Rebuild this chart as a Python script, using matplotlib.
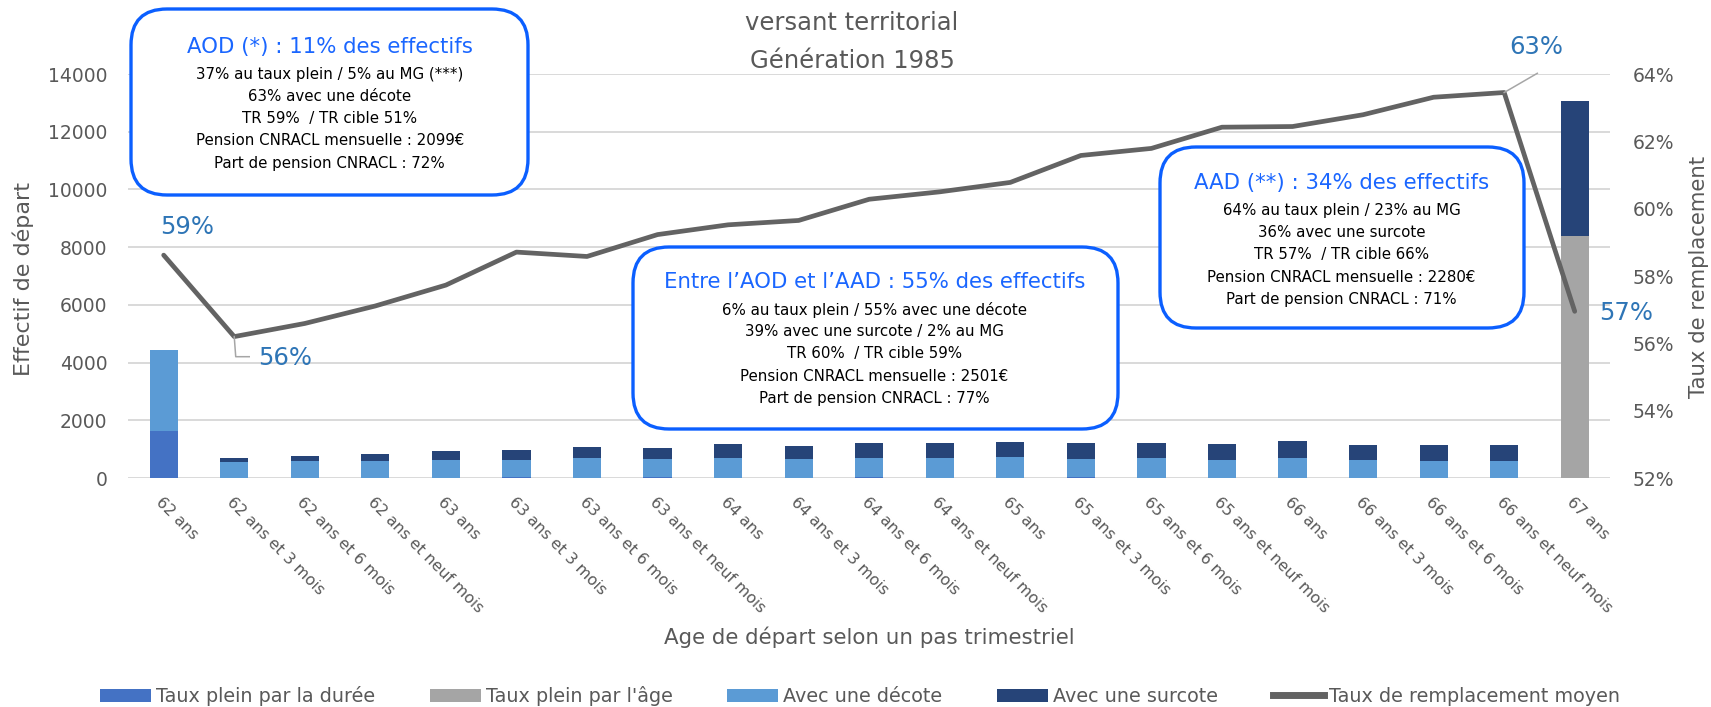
import matplotlib
matplotlib.use("Agg")
import matplotlib.pyplot as plt
import numpy as np
from matplotlib.patches import FancyBboxPatch, Patch
from matplotlib.lines import Line2D
from matplotlib.transforms import IdentityTransform

plt.rcParams['font.family'] = ['DejaVu Sans']

# ---------------- data ----------------
categories = ["62 ans", "62 ans et 3 mois", "62 ans et 6 mois", "62 ans et neuf mois",
              "63 ans", "63 ans et 3 mois", "63 ans et 6 mois", "63 ans et neuf mois",
              "64 ans", "64 ans et 3 mois", "64 ans et 6 mois", "64 ans et neuf mois",
              "65 ans", "65 ans et 3 mois", "65 ans et 6 mois", "65 ans et neuf mois",
              "66 ans", "66 ans et 3 mois", "66 ans et 6 mois", "66 ans et neuf mois",
              "67 ans"]
taux_plein_duree = [1640, 0, 0, 0, 0, 40, 0, 45, 0, 0, 40, 0, 0, 40, 0, 0, 0, 0, 0, 0, 0]
taux_plein_age = [0, 0, 0, 0, 0, 0, 0, 0, 0, 0, 0, 0, 0, 0, 0, 0, 0, 0, 0, 0, 8400]
avec_decote = [2780, 545, 575, 600, 620, 575, 680, 605, 695, 660, 650, 705, 740, 630, 705,
               635, 705, 635, 600, 590, 0]
avec_surcote = [0, 140, 200, 245, 305, 365, 380, 380, 475, 450, 515, 510, 520, 545, 520,
                545, 575, 520, 535, 555, 4670]
taux_remplacement = [0.5862, 0.5620, 0.5659, 0.5711, 0.5773, 0.5871, 0.5858, 0.5923,
                     0.5952, 0.5965, 0.6028, 0.6050, 0.6078, 0.6158, 0.6179, 0.6242,
                     0.6244, 0.6279, 0.6331, 0.6345, 0.5695]
left_ticks = [0, 2000, 4000, 6000, 8000, 10000, 12000, 14000]
right_ticks = [0.52, 0.54, 0.56, 0.58, 0.60, 0.62, 0.64]

series_names = ["Taux plein par la durée", "Taux plein par l'âge", "Avec une décote",
                "Avec une surcote"]
series_colors = ["#4472C4", "#A5A5A5", "#5B9BD5", "#264478"]
line_name = "Taux de remplacement moyen"
line_color = "#636363"

title_lines = ["versant territorial", "Génération 1985"]
box_titles = ["AOD (*) : 11% des effectifs",
              "Entre l’AOD et l’AAD : 55% des effectifs",
              "AAD (**) : 34% des effectifs"]
box_bodies = [
    ["37% au taux plein / 5% au MG (***)", "63% avec une décote", "TR 59%  / TR cible 51%",
     "Pension CNRACL mensuelle : 2099€", "Part de pension CNRACL : 72%"],
    ["6% au taux plein / 55% avec une décote", "39% avec une surcote / 2% au MG",
     "TR 60%  / TR cible 59%", "Pension CNRACL mensuelle : 2501€",
     "Part de pension CNRACL : 77%"],
    ["64% au taux plein / 23% au MG", "36% avec une surcote", "TR 57%  / TR cible 66%",
     "Pension CNRACL mensuelle : 2280€", "Part de pension CNRACL : 71%"],
]

# ---------------- figure ----------------
W, H = 1711, 707
fig = plt.figure(figsize=(W / 100, H / 100), dpi=100)
GREY = "#595959"


def fx(px):
    return px / W


def fy(py):
    return 1 - py / H


ax = fig.add_axes([fx(128.4), fy(478), (1610 - 128.4) / W, (478 - 74) / H])
x = np.arange(len(categories))
bottom = np.zeros(len(categories))
for vals, col in zip([taux_plein_duree, taux_plein_age, avec_decote, avec_surcote],
                     series_colors):
    v = np.array(vals, dtype=float)
    ax.bar(x, v, 0.4, bottom=bottom, color=col, zorder=2)
    bottom += v

ax.set_xlim(-0.5, len(categories) - 0.5)
ax.set_ylim(0, 14000)
ax.set_yticks(left_ticks)
ax.set_yticklabels([str(v) for v in left_ticks])
ax.grid(axis='y', color='#D9D9D9', lw=1.4)
ax.set_axisbelow(True)
for s in ax.spines.values():
    s.set_visible(False)
ax.tick_params(axis='y', length=0, pad=15, labelsize=13.5, labelcolor=GREY)
ax.set_xticks(x)
ax.set_xticklabels(categories, rotation=-45, ha='left', va='top',
                   rotation_mode='anchor', fontsize=11.3, color=GREY)
ax.tick_params(axis='x', length=0, pad=12)

ax2 = ax.twinx()
ax2.set_ylim(0.52, 0.64)
ax2.plot(x, taux_remplacement, color=line_color, lw=3.4, solid_joinstyle='round',
         solid_capstyle='round', zorder=3)
ax2.set_yticks(right_ticks)
ax2.set_yticklabels([f"{round(v * 100)}%" for v in right_ticks])
ax2.tick_params(axis='y', length=0, pad=16.5, labelsize=13.5, labelcolor=GREY)
for s in ax2.spines.values():
    s.set_visible(False)

# axis titles
fig.text(fx(23), fy(279), "Effectif de départ", rotation=90, ha='center', va='center',
         fontsize=16, color=GREY)
fig.text(fx(1699), fy(276.5), "Taux de remplacement", rotation=90, ha='center',
         va='center', fontsize=15.3, color=GREY)
fig.text(fx(869), fy(637), "Age de départ selon un pas trimestriel", ha='center',
         va='center', fontsize=15.4, color=GREY)

# chart title (visible part)
fig.text(fx(852), fy(23), title_lines[0], ha='center', va='center', fontsize=17.5,
         color=GREY)
fig.text(fx(852), fy(61), title_lines[1], ha='center', va='center', fontsize=17.5,
         color=GREY)

# ---------------- data labels ----------------
LBL = "#2E75B6"


def pt_px(i):
    dx, dy = ax2.transData.transform((x[i], taux_remplacement[i]))
    return dx, dy


def pct(v):
    return f"{round(v * 100)}%"


n = len(categories)
fig.text(fx(186.7), fy(226.7), pct(taux_remplacement[0]), ha='center', va='center',
         fontsize=17.5, color=LBL)
fig.text(fx(285), fy(358.3), pct(taux_remplacement[1]), ha='center', va='center',
         fontsize=17.5, color=LBL)
fig.text(fx(1536.7), fy(46.7), pct(taux_remplacement[n - 2]), ha='center', va='center',
         fontsize=17.5, color=LBL)
fig.text(fx(1626), fy(312.7), pct(taux_remplacement[n - 1]), ha='center', va='center',
         fontsize=17.5, color=LBL)

# leader lines
p1x, p1y = pt_px(1)
l1 = Line2D([p1x, p1x + 1.5, p1x + 15], [p1y, H - 356.7, H - 356.7], color='#A6A6A6',
            lw=1.1, transform=IdentityTransform())
fig.add_artist(l1)
p19x, p19y = pt_px(n - 2)
l2 = Line2D([p19x, 1537.3], [p19y, H - 73.3], color='#A6A6A6', lw=1.1,
            transform=IdentityTransform())
fig.add_artist(l2)

# ---------------- callout boxes ----------------
EDGE = "#0B5FFF"
TITLE_C = "#1A66FF"
boxes = [
    dict(x0=131, x1=528, y0=9, y1=195, tx=329.7, ty=46.7,
         ly=[75, 96.7, 118.3, 140.7, 163.3]),
    dict(x0=633, x1=1118, y0=247, y1=429, tx=874.5, ty=281.7,
         ly=[310, 331.7, 353.3, 376.7, 398.3]),
    dict(x0=1160, x1=1524, y0=147, y1=328, tx=1341.6, ty=183.3,
         ly=[210, 232.3, 254.3, 277.3, 299.3]),
]
for b, title, body in zip(boxes, box_titles, box_bodies):
    patch = FancyBboxPatch((b['x0'] / 100, (H - b['y1']) / 100),
                           (b['x1'] - b['x0']) / 100, (b['y1'] - b['y0']) / 100,
                           boxstyle="round,pad=0,rounding_size=0.36",
                           transform=fig.dpi_scale_trans, fc='white', ec=EDGE, lw=2.4)
    fig.add_artist(patch)
    fig.text(fx(b['tx']), fy(b['ty']), title, ha='center', va='center', fontsize=15.3,
             color=TITLE_C)
    for yy, line in zip(b['ly'], body):
        fig.text(fx(b['tx']), fy(yy), line, ha='center', va='center', fontsize=10.8,
                 color='black')

# ---------------- legend ----------------
handles = [Patch(facecolor=c) for c in series_colors]
handles.append(Line2D([], [], color=line_color, lw=5))
fig.legend(handles, series_names + [line_name], loc='center',
           bbox_to_anchor=(fx(860), fy(696)), ncol=5, frameon=False, fontsize=13.8,
           handlelength=2.66, handleheight=0.69, handletextpad=0.26, columnspacing=2.85,
           labelcolor=GREY, borderaxespad=0, borderpad=0)

fig.savefig("out.png", dpi=100)
